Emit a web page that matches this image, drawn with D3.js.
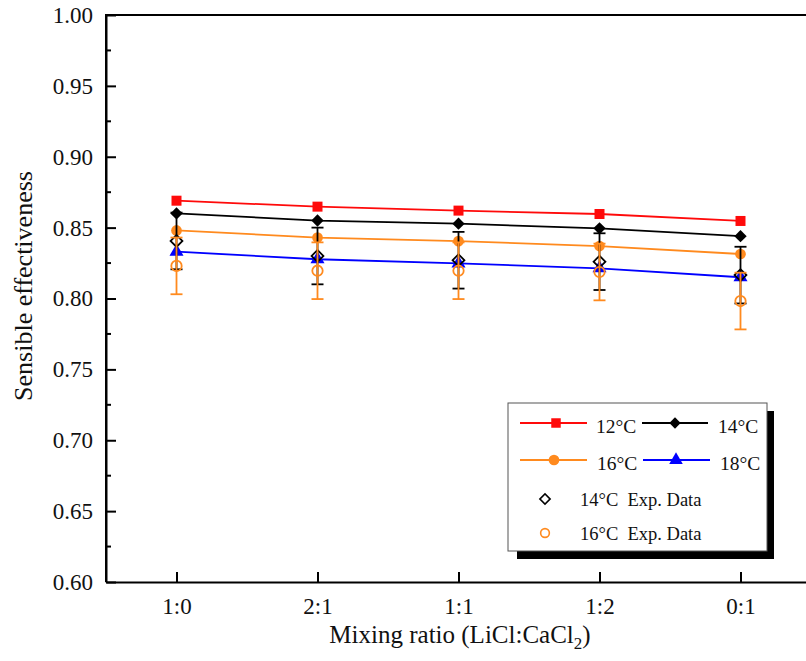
<!DOCTYPE html>
<html><head><meta charset="utf-8">
<script src="https://cdn.jsdelivr.net/npm/d3@7"></script>
<style>body{margin:0;background:#fff}svg{display:block}text{font-family:"Liberation Serif","Times New Roman",serif}</style>
</head><body><svg id="c" width="806" height="661"></svg>
<script>
const categories = ["1:0","2:1","1:1","1:2","0:1"];
const s12 = [0.869,0.8648,0.862,0.8596,0.8547];
const s14 = [0.860,0.855,0.8528,0.8495,0.844];
const s16 = [0.848,0.843,0.8405,0.837,0.8314];
const s18 = [0.833,0.8277,0.8248,0.8213,0.815];
const exp14 = [0.8406,0.830,0.827,0.826,0.8165];
const exp16 = [0.823,0.8196,0.8196,0.8187,0.7982];
const err14 = [0.02,0.02,0.02,0.02,0.02];
const err16 = [0.02,0.02,0.02,0.02,0.02];
const yTicks = [0.60,0.65,0.70,0.75,0.80,0.85,0.90,0.95,1.00];

const svg = d3.select("#c");
const L=106, T=15, B=582, R=811;
const x = d3.scaleLinear().domain([0.5,5.5]).range([L,R]);
const y = d3.scaleLinear().domain([0.6,1.0]).range([B,T]);
const xi = i=>x(i+1);

const g = svg.append("g");
const yAx = g.append("g").attr("transform",`translate(${L},0)`)
  .call(d3.axisLeft(y).tickValues(yTicks).tickFormat(d3.format(".2f")).tickSize(-10).tickSizeOuter(0).tickPadding(13));
const minor = d3.range(0.625,1.0,0.05);
yAx.selectAll(".mn").data(minor).enter().append("line").attr("class","mn")
  .attr("x1",0).attr("x2",5).attr("y1",d=>y(d)).attr("y2",d=>y(d)).attr("stroke","#000").attr("stroke-width",2);
const xAx = g.append("g").attr("transform",`translate(0,${B})`)
  .call(d3.axisBottom(x).tickValues([1,2,3,4,5]).tickFormat((d)=>categories[d-1]).tickSize(-10).tickSizeOuter(0).tickPadding(16));
[yAx,xAx].forEach(a=>{a.attr("font-family","Liberation Serif");
  a.select(".domain").attr("stroke","#000").attr("stroke-width",2);
  a.selectAll(".tick line").attr("stroke","#000").attr("stroke-width",2);
  a.selectAll("text").attr("font-size",23).attr("fill","#111").attr("font-family","Liberation Serif");});
g.append("line").attr("x1",L-1).attr("x2",R).attr("y1",T).attr("y2",T).attr("stroke","#000").attr("stroke-width",2);
g.append("line").attr("x1",L).attr("x2",L).attr("y1",T-1).attr("y2",B).attr("stroke","#000").attr("stroke-width",2);

svg.append("text").attr("x",460).attr("y",643).attr("text-anchor","middle").attr("font-size",25).attr("fill","#111")
  .html('Mixing ratio (LiCl:CaCl<tspan font-size="17" dy="6">2</tspan><tspan dy="-6">)</tspan>');
svg.append("text").attr("transform","translate(32,286) rotate(-90)").attr("text-anchor","middle").attr("font-size",26).attr("fill","#111").text("Sensible effectiveness");

const RED="#ff0a0a", ORG="#ff8a1e", BLU="#0000ff", BLK="#000";
const series = [
  {v:s12,c:RED,sym:d3.symbolSquare,size:100,rot:0},
  {v:s14,c:BLK,sym:d3.symbolSquare,size:76,rot:45},
  {v:s16,c:ORG,sym:d3.symbolCircle,size:90,rot:0},
  {v:s18,c:BLU,sym:d3.symbolTriangle,size:85,rot:0}
];
const line = d3.line().x((d,i)=>xi(i)).y(d=>y(d));
series.forEach(s=>{
  g.append("path").datum(s.v).attr("d",line).attr("fill","none").attr("stroke",s.c).attr("stroke-width",1.8);
  g.selectAll(null).data(s.v).enter().append("path")
    .attr("d",d3.symbol().type(s.sym).size(s.size))
    .attr("transform",(d,i)=>`translate(${xi(i)},${y(d)}) rotate(${s.rot})`)
    .attr("fill",s.c);
});
function expData(vals,errs,col,sym,size,rot){
  const eg=g.append("g");
  vals.forEach((v,i)=>{
    const cx=xi(i);
    eg.append("line").attr("x1",cx).attr("x2",cx).attr("y1",y(v+errs[i])).attr("y2",y(v-errs[i])).attr("stroke",col).attr("stroke-width",1.8);
    [v+errs[i],v-errs[i]].forEach(e=>eg.append("line").attr("x1",cx-6).attr("x2",cx+6).attr("y1",y(e)).attr("y2",y(e)).attr("stroke",col).attr("stroke-width",1.8));
    eg.append("path").attr("d",d3.symbol().type(sym).size(size)).attr("transform",`translate(${cx},${y(v)}) rotate(${rot})`)
      .attr("fill","none").attr("stroke",col).attr("stroke-width",1.8);
  });
}
expData(exp14,err14,BLK,d3.symbolSquare,70,45);
expData(exp16,err16,ORG,d3.symbolCircle,85,0);

const lg = svg.append("g");
lg.append("rect").attr("x",517).attr("y",411).attr("width",257).attr("height",148).attr("fill","#000");
lg.append("rect").attr("x",508).attr("y",403).attr("width",259).attr("height",148).attr("fill","#fff").attr("stroke","#555").attr("stroke-width",1);
const items=[
  {x1:520,x2:587,mx:556,tx:596,y:423,c:RED,sym:d3.symbolSquare,size:90,rot:0,t:"12°C"},
  {x1:642,x2:708,mx:675,tx:718,y:423,c:BLK,sym:d3.symbolSquare,size:64,rot:45,t:"14°C"},
  {x1:520,x2:587,mx:554,tx:597,y:460,c:ORG,sym:d3.symbolCircle,size:90,rot:0,t:"16°C"},
  {x1:643,x2:710,mx:676,tx:720,y:460,c:BLU,sym:d3.symbolTriangle,size:80,rot:0,t:"18°C"}
];
items.forEach(it=>{
  lg.append("line").attr("x1",it.x1).attr("x2",it.x2).attr("y1",it.y).attr("y2",it.y).attr("stroke",it.c).attr("stroke-width",1.8);
  lg.append("path").attr("d",d3.symbol().type(it.sym).size(it.size)).attr("transform",`translate(${it.mx},${it.y}) rotate(${it.rot})`).attr("fill",it.c);
  lg.append("text").attr("x",it.tx).attr("y",it.y+10).attr("font-size",19.5).attr("fill","#111").text(it.t);
});
[{y:499,c:BLK,sym:d3.symbolSquare,size:52,rot:45,t:"14°C  Exp. Data"},{y:533,c:ORG,sym:d3.symbolCircle,size:60,rot:0,t:"16°C  Exp. Data"}].forEach(it=>{
  lg.append("path").attr("d",d3.symbol().type(it.sym).size(it.size)).attr("transform",`translate(545,${it.y}) rotate(${it.rot})`).attr("fill","none").attr("stroke",it.c).attr("stroke-width",1.6);
  lg.append("text").attr("x",580).attr("y",it.y+7).attr("font-size",18.5).attr("fill","#111").style("white-space","pre").text(it.t);
});
</script></body></html>
